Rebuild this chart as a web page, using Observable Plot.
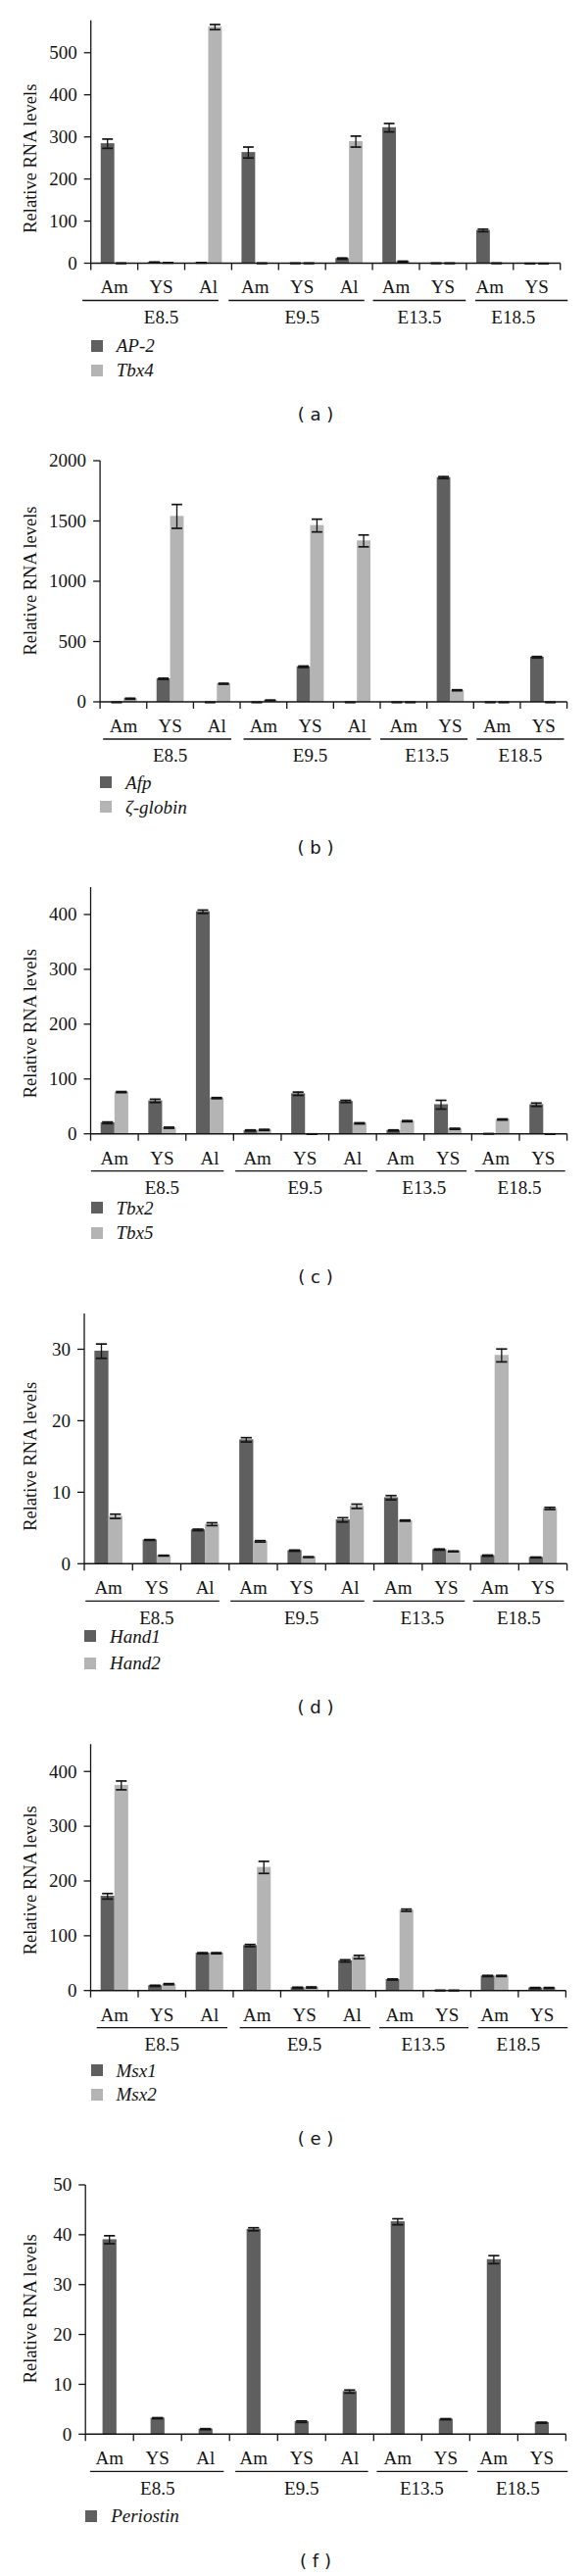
<!DOCTYPE html>
<html><head><meta charset="utf-8">
<script src="https://cdn.jsdelivr.net/npm/d3@7"></script>
<script src="https://cdn.jsdelivr.net/npm/@observablehq/plot@0.6"></script>
<style>
body{margin:0;background:#fff;}
#page{position:relative;width:600px;height:2628px;overflow:hidden;background:#fff;}
.panel{position:absolute;left:0;}
.panel svg{overflow:visible;display:block;}
.sw{position:absolute;width:12px;height:12px;}
.leg{position:absolute;font-family:"Liberation Serif",serif;font-style:italic;font-size:19px;line-height:19px;white-space:nowrap;color:#141414;}
.cap{position:absolute;font-family:"DejaVu Sans",sans-serif;font-size:18px;line-height:18px;white-space:pre;color:#141414;transform:translate(-50%,-50%);}
</style></head><body><div id="page"></div>
<script>
// ---- categories ----
const groups  = ["E8.5","E8.5","E8.5","E9.5","E9.5","E9.5","E13.5","E13.5","E18.5","E18.5"];
const tissues = ["Am","YS","Al","Am","YS","Al","Am","YS","Am","YS"];
const groupNames = ["E8.5","E9.5","E13.5","E18.5"];
const yLabel = "Relative RNA levels";

// ---- (a) ----
const ap2Values  = [285, 3, 2, 264, 1, 12, 323, 1, 79, 0.5];
const ap2Errors  = [11, 1, 0.5, 13, 0.5, 1.5, 10, 0.5, 3, 0.3];
const tbx4Values = [1, 2, 562, 1, 1, 290, 5, 1, 1, 0.5];
const tbx4Errors = [0.5, 0.5, 6, 0.5, 0.5, 13, 1, 0.5, 0.5, 0.3];
const ticksA = [0, 100, 200, 300, 400, 500];
// ---- (b) ----
const afpValues     = [0, 195, 0, 0, 295, 0, 0, 1864, 0, 374];
const afpErrors     = [0, 5, 0, 0, 6, 0, 0, 8, 0, 6];
const zglobinValues = [30, 1542, 154, 16, 1466, 1339, 0, 100, 0, 0];
const zglobinErrors = [4, 99, 4, 3, 53, 49, 0, 4, 0, 0];
const ticksB = [0, 500, 1000, 1500, 2000];
// ---- (c) ----
const tbx2Values = [21, 61, 406, 7, 74, 60, 7, 54, 1, 54];
const tbx2Errors = [1.5, 3, 3, 1, 3, 2, 1, 8, 0.3, 3];
const tbx5Values = [77, 12, 66, 8, 0.5, 20, 24, 10, 27, 0.5];
const tbx5Errors = [1, 1, 1, 1, 0.3, 1, 1, 1, 1, 0.3];
const ticksC = [0, 100, 200, 300, 400];
// ---- (d) ----
const hand1Values = [29.8, 3.4, 4.8, 17.4, 1.9, 6.2, 9.3, 2.05, 1.2, 0.95];
const hand1Errors = [1.0, 0.05, 0.1, 0.3, 0.08, 0.3, 0.3, 0.08, 0.08, 0.05];
const hand2Values = [6.7, 1.2, 5.6, 3.2, 1.0, 8.1, 6.1, 1.8, 29.2, 7.8];
const hand2Errors = [0.3, 0.05, 0.2, 0.1, 0.05, 0.3, 0.08, 0.05, 0.9, 0.15];
const ticksD = [0, 10, 20, 30];
// ---- (e) ----
const msx1Values = [173, 9.5, 69, 83, 6, 55, 21, 1, 27.5, 5.4];
const msx1Errors = [5, 1, 1, 2, 1, 2, 1, 0.5, 1, 1];
const msx2Values = [375.5, 12.5, 69, 225.7, 6.5, 62, 147.5, 1, 27.5, 5.4];
const msx2Errors = [8, 1, 1, 11, 1, 3, 2, 0.5, 1, 1];
const ticksE = [0, 100, 200, 300, 400];
// ---- (f) ----
const periostinValues = [39.1, 3.3, 1.1, 41.2, 2.6, 8.65, 42.7, 3.1, 35.1, 2.4];
const periostinErrors = [0.8, 0.1, 0.1, 0.3, 0.15, 0.3, 0.6, 0.1, 0.8, 0.1];
const ticksF = [0, 10, 20, 30, 40, 50];

// ---- styles / layout ----
const COLORS = {dark: "#5f5f5f", light: "#b4b4b4"};
const INK = "#141414";
const SERIF = "'Liberation Serif', 'Times New Roman', serif";
const BAR_FRACTION = 0.29;

const panels = [
  {tag: "a", yMax: 577, yTicks: ticksA,
   series: [{name: "AP-2", shade: "dark", values: ap2Values, errors: ap2Errors},
            {name: "Tbx4", shade: "light", values: tbx4Values, errors: tbx4Errors}],
   layout: {panelTop: 0, left: 92.7, right: 571.7, top: 20.7, zero: 268.5, labelY: 161.7, legendY: [352.5, 377.5], captionY: 423.3,
            underStart: [-8.6, -3.1, 0.4, 9], underEnd: [-13.5, -8.4, -0.6, 7.6]}},
  {tag: "b", yMax: 2000, yTicks: ticksB,
   series: [{name: "Afp", shade: "dark", values: afpValues, errors: afpErrors},
            {name: "ζ-globin", shade: "light", values: zglobinValues, errors: zglobinErrors}],
   layout: {panelTop: 440, left: 102.1, right: 578.6, top: 470, zero: 716, labelY: 592.5, legendY: [798.3, 823.3], captionY: 865,
            underStart: [3.1, 3.5, 0, 3], underEnd: [-9, -9.5, -6.2, -3.1]}},
  {tag: "c", yMax: 450, yTicks: ticksC,
   series: [{name: "Tbx2", shade: "dark", values: tbx2Values, errors: tbx2Errors},
            {name: "Tbx5", shade: "light", values: tbx5Values, errors: tbx5Errors}],
   layout: {panelTop: 880, left: 92.5, right: 578.6, top: 905, zero: 1156.7, labelY: 1044.2, legendY: [1232.3, 1257.7], captionY: 1303.3,
            underStart: [0.4, 1.8, -0.6, 3.2], underEnd: [-10, -9.3, -5.2, -1.9]}},
  {tag: "d", yMax: 35, yTicks: ticksD,
   series: [{name: "Hand1", shade: "dark", values: hand1Values, errors: hand1Errors},
            {name: "Hand2", shade: "light", values: hand2Values, errors: hand2Errors}],
   layout: {panelTop: 1320, left: 86, right: 578.6, top: 1340, zero: 1595.3, labelY: 1485.8, legendY: [1669.3, 1696.7], captionY: 1741.7,
            underStart: [1.2, 1.4, -1, 2.6], underEnd: [-10, -9.8, -5.8, -3.1]}},
  {tag: "e", yMax: 450, yTicks: ticksE,
   series: [{name: "Msx1", shade: "dark", values: msx1Values, errors: msx1Errors},
            {name: "Msx2", shade: "light", values: msx2Values, errors: msx2Errors}],
   layout: {panelTop: 1760, left: 92.5, right: 577.4, top: 1779.3, zero: 2030.7, labelY: 1918.3, legendY: [2112.3, 2136.7], captionY: 2181.7,
            underStart: [6.2, 6.7, 3.6, 7.2], underEnd: [-5.9, -5.6, -2.4, 1.9]}},
  {tag: "f", yMax: 50, yTicks: ticksF,
   series: [{name: "Periostin", shade: "dark", values: periostinValues, errors: periostinErrors}],
   layout: {panelTop: 2200, left: 87.2, right: 577.4, top: 2229, zero: 2483.3, labelY: 2355.3, legendY: [2566.7], captionY: 2613.3,
            underStart: [4.6, 5.9, 3.1, 7.6], underEnd: [-5.9, -5.7, -2, 1.9]}}
];

const page = document.getElementById("page");
const keys = groups.map((g, i) => g + " " + tissues[i]);

function renderPanel(p) {
  const L = p.layout;
  const zeroY = L.zero - L.panelTop;
  const H = Math.round(zeroY + 72);
  const marginTop = L.top - L.panelTop;
  const marginBottom = H - zeroY;
  const marginLeft = L.left;
  const marginRight = 600 - L.right;
  const bw = (L.right - L.left) / keys.length;
  const barW = bw * BAR_FRACTION;
  const n = p.series.length;
  const marks = [];

  p.series.forEach((s, si) => {
    const rows = keys.map((k, i) => ({key: k, v: s.values[i], e: s.errors[i]}));
    const off = n === 1 ? 0 : (si === 0 ? -barW / 2 : barW / 2);
    const inset = (w) => { const l = bw / 2 + off - w / 2; return {insetLeft: l, insetRight: bw - l - w}; };
    marks.push(Plot.barY(rows, {x: "key", y: "v", fill: COLORS[s.shade], ...inset(barW)}));
    marks.push(Plot.barY(rows, {x: "key", y1: d => Math.max(0, d.v - d.e), y2: d => d.v + d.e, fill: INK, ...inset(1.3)}));
    marks.push(Plot.tickY(rows, {x: "key", y: d => d.v + d.e, stroke: INK, strokeWidth: 1.7, ...inset(barW - 3)}));
    marks.push(Plot.tickY(rows, {x: "key", y: d => Math.max(0, d.v - d.e), stroke: INK, strokeWidth: 1.7, ...inset(barW - 3)}));
  });

  // axes, category labels, group underlines
  marks.push((index, scales) => {
    const x = scales.x, y = scales.y;
    const b = x.bandwidth ? x.bandwidth() : bw;
    const y0 = y(0);
    const g = d3.create("svg:g");
    const line = (x1, y1, x2, y2, w) => g.append("line")
      .attr("x1", x1).attr("y1", y1).attr("x2", x2).attr("y2", y2)
      .attr("stroke", INK).attr("stroke-width", w);
    const text = (tx, ty, str, anchor, size) => g.append("text")
      .attr("x", tx).attr("y", ty).attr("text-anchor", anchor)
      .attr("font-family", SERIF).attr("font-size", size).attr("fill", INK).text(str);
    const xStart = x(keys[0]);
    const xEnd = x(keys[keys.length - 1]) + b;
    // y axis
    line(xStart, y(p.yMax), xStart, y0, 1.3);
    for (const t of p.yTicks) {
      const ty = y(t);
      line(xStart - 7, ty, xStart, ty, 1.3);
      text(xStart - 14, ty + 6.3, String(t), "end", 19);
    }
    // x axis
    line(xStart, y0, xEnd, y0, 1.5);
    keys.forEach(k => line(x(k), y0, x(k), y0 + 7, 1.3));
    line(xEnd, y0, xEnd, y0 + 7, 1.3);
    keys.forEach((k, i) => text(x(k) + b / 2, y0 + 30.8, tissues[i], "middle", 19));
    groupNames.forEach((gname, gi) => {
      const members = keys.filter((k, i) => groups[i] === gname);
      const gx1 = x(members[0]);
      const gx2 = x(members[members.length - 1]) + b;
      line(gx1 + L.underStart[gi], y0 + 38, gx2 + L.underEnd[gi], y0 + 38, 1.3);
      text((gx1 + gx2) / 2, y0 + 61.3, gname, "middle", 19);
    });
    // y label
    g.append("text")
      .attr("transform", `translate(37,${L.labelY - L.panelTop}) rotate(-90)`)
      .attr("text-anchor", "middle").attr("font-family", SERIF).attr("font-size", 18.5)
      .attr("fill", INK).text(yLabel);
    return g.node();
  });

  const svg = Plot.plot({
    width: 600, height: H,
    marginTop, marginBottom, marginLeft, marginRight,
    x: {type: "band", domain: keys, padding: 0, round: false, axis: null},
    y: {domain: [0, p.yMax], axis: null},
    style: {fontFamily: SERIF, fontSize: "19px", background: "transparent", overflow: "visible"},
    marks
  });
  const wrap = document.createElement("div");
  wrap.className = "panel";
  wrap.style.top = L.panelTop + "px";
  wrap.appendChild(svg);
  page.appendChild(wrap);

  // legend
  p.series.forEach((s, si) => {
    const cy = L.legendY[si];
    const sw = document.createElement("div");
    sw.className = "sw";
    sw.style.left = L.left + "px";
    sw.style.top = (cy - 6) + "px";
    sw.style.background = COLORS[s.shade];
    page.appendChild(sw);
    const t = document.createElement("div");
    t.className = "leg";
    t.style.left = (L.left + 26) + "px";
    t.style.top = (cy - 9.6) + "px";
    t.textContent = s.name;
    page.appendChild(t);
  });
  // caption
  const cap = document.createElement("div");
  cap.className = "cap";
  cap.style.left = "322px";
  cap.style.top = L.captionY + "px";
  cap.textContent = "( " + p.tag + " )";
  page.appendChild(cap);
}

panels.forEach(renderPanel);
</script>
</body></html>
